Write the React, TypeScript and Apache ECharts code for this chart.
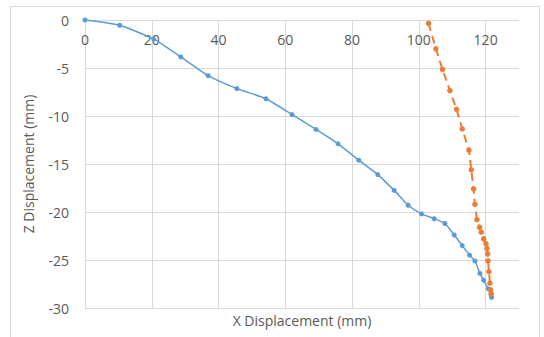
import React, { useEffect, useRef } from "react";
import * as echarts from "echarts";

const blueX = [0, 10.4, 20.6, 28.7, 36.9, 45.5, 54.2, 62.0, 69.2, 75.8, 82.0, 87.7, 92.6, 96.8, 100.8, 104.6, 107.8, 110.6, 113.0, 115.2, 116.8, 118.3, 119.4, 120.8, 121.6, 121.8];
const blueZ = [0, -0.55, -2.0, -3.85, -5.8, -7.15, -8.2, -9.85, -11.4, -12.9, -14.6, -16.1, -17.75, -19.3, -20.2, -20.7, -21.2, -22.4, -23.5, -24.5, -25.1, -26.4, -27.1, -28.0, -28.6, -28.9];
const orangeX = [102.9, 105.1, 107.1, 109.3, 111.3, 113.0, 115.0, 115.7, 116.4, 116.8, 117.4, 118.2, 118.7, 119.4, 120.1, 120.4, 120.6, 120.7, 121.0, 121.3, 121.5, 121.7];
const orangeZ = [-0.35, -3.0, -5.15, -7.35, -9.3, -11.35, -13.55, -15.6, -17.6, -19.2, -20.8, -21.6, -22.1, -22.8, -23.3, -23.8, -24.35, -25.1, -26.2, -27.4, -28.1, -28.5];

const xTitle = "X Displacement (mm)";
const yTitle = "Z Displacement (mm)";

export default function App() {
  const ref = useRef<HTMLDivElement>(null);
  useEffect(() => {
    if (!ref.current) return;
    const chart = echarts.init(ref.current, null, { renderer: "svg" });
    const font = "'Open Sans', 'Noto Sans', sans-serif";
    const gray = "#595959";
    const grid = "#d9d9d9";
    chart.setOption({
      animation: false,
      backgroundColor: "#ffffff",
      grid: { left: 85, top: 20, right: 25, bottom: 29, containLabel: false },
      xAxis: {
        type: "value",
        position: "top",
        min: 0,
        max: 130,
        interval: 20,
        axisLine: { show: false },
        axisTick: { show: false },
        axisLabel: {
          inside: true,
          margin: 12,
          color: gray,
          fontSize: 14,
          fontFamily: font,
          formatter: (v: number) => (v > 120 ? "" : String(v)),
        },
        splitLine: {
          show: true,
          lineStyle: { color: [grid, grid, grid, grid, grid, grid, grid, "rgba(0,0,0,0)"], width: 1 },
        },
      },
      yAxis: {
        type: "value",
        min: -30,
        max: 0,
        interval: 5,
        name: yTitle,
        nameLocation: "middle",
        nameGap: 50,
        nameTextStyle: { color: gray, fontSize: 14, fontFamily: font },
        axisLine: { show: false },
        axisTick: { show: false },
        axisLabel: { color: gray, fontSize: 14, fontFamily: font, margin: 16 },
        splitLine: { show: true, lineStyle: { color: grid, width: 1 } },
      },
      graphic: [
        {
          type: "rect",
          shape: { x: 10.5, y: 6.5, width: 529, height: 340 },
          style: { fill: "none", stroke: "#d9d9d9", lineWidth: 1 },
          silent: true,
          z: -1,
        },
        {
          type: "text",
          x: 302,
          y: 320,
          style: {
            text: xTitle,
            fill: gray,
            fontSize: 14,
            fontFamily: font,
            align: "center",
            verticalAlign: "middle",
          },
        },
      ],
      series: [
        {
          type: "line",
          data: blueX.map((x, i) => [x, blueZ[i]]),
          smooth: 0.2,
          symbol: "circle",
          symbolSize: 5,
          lineStyle: { color: "#5B9BD5", width: 1.5 },
          itemStyle: { color: "#5B9BD5" },
        },
        {
          type: "line",
          data: orangeX.map((x, i) => [x, orangeZ[i]]),
          symbol: "circle",
          symbolSize: 5.5,
          lineStyle: { color: "#ED7D31", width: 2, type: [8, 5] },
          itemStyle: { color: "#ED7D31" },
        },
      ],
    });
    return () => chart.dispose();
  }, []);
  return (
    <div
      ref={ref}
      style={{ position: "fixed", left: 0, top: 0, width: 544, height: 337, background: "#fff" }}
    />
  );
}
